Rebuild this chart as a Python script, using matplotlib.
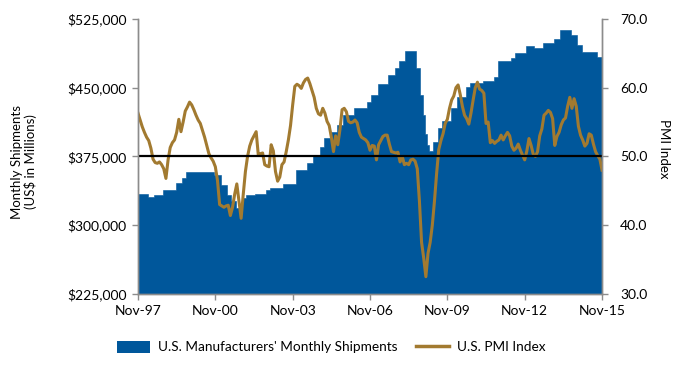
import numpy as np
import matplotlib
matplotlib.use('Agg')
import matplotlib.pyplot as plt
from matplotlib.patches import Patch
from matplotlib.lines import Line2D
from matplotlib.ticker import FuncFormatter

plt.rcParams['font.family'] = ['Lato', 'DejaVu Sans']

# x tick labels, one every 36 months from Nov-97
tick_labels = ['Nov-97', 'Nov-00', 'Nov-03', 'Nov-06', 'Nov-09', 'Nov-12', 'Nov-15']

# monthly shipments (US$ millions), Nov-97 .. Nov-15, read as (value, number of months)
ship_runs = [
    (334000, 5), (331000, 3), (333000, 4), (338000, 6), (346000, 3), (351000, 2),
    (358000, 13), (355000, 3), (344000, 3), (333000, 2), (326000, 2), (319000, 3),
    (330000, 2), (333000, 4), (334500, 5), (338000, 2), (340000, 6), (345000, 6),
    (360000, 5), (367600, 3), (376600, 3), (385700, 2), (394800, 3), (402000, 3),
    (409000, 3), (420000, 5), (427600, 6), (434000, 2), (442000, 3), (453600, 5),
    (464000, 3), (471000, 2), (479000, 3), (490000, 5), (471000, 2), (442000, 1),
    (420000, 1), (400000, 1), (388000, 1), (381000, 2), (391000, 2), (406000, 2),
    (414000, 4), (428000, 3), (440000, 4), (451000, 2), (455000, 6), (457000, 5),
    (462000, 2), (479000, 6), (482000, 2), (488000, 5), (495000, 4), (493000, 4),
    (498500, 5), (503000, 3), (513000, 5), (507600, 3), (497000, 2), (489000, 7),
    (484000, 3),
]
shipments = [v for v, n in ship_runs for _ in range(n)]

# ISM PMI, monthly
pmi = [
    56.3, 55.3, 54.3, 53.5, 52.8, 52.3, 51.2, 49.6, 49.1, 49.0, 49.2, 48.8,
    48.2, 46.8, 49.5, 51.3, 52.0, 52.4, 53.5, 55.4, 53.6, 55.0, 56.6, 57.2,
    57.9, 57.5, 56.8, 56.0, 55.3, 54.8, 53.8, 52.8, 51.6, 50.4, 49.8, 49.3,
    48.5, 46.5, 43.0, 42.8, 42.6, 42.8, 42.9, 41.4, 42.6, 44.5, 46.0, 43.5,
    41.0, 44.5, 47.8, 50.0, 51.5, 52.4, 53.0, 53.6, 50.2, 50.4, 50.5, 48.8,
    48.6, 48.5, 51.7, 50.8, 47.8, 46.4, 47.0, 48.8, 49.2, 50.7, 52.4, 54.5,
    57.5, 60.2, 60.5, 60.3, 59.9, 60.7, 61.2, 61.4, 60.6, 59.6, 58.6, 57.0,
    56.2, 56.0, 57.0, 56.3, 55.1, 54.5, 52.8, 50.7, 53.0, 51.7, 53.9, 56.8,
    57.0, 56.5, 55.1, 54.9, 55.0, 55.3, 54.9, 53.5, 52.8, 52.6, 52.4, 52.0,
    50.9, 51.6, 51.5, 49.5, 51.7, 52.3, 52.9, 53.1, 53.1, 51.8, 50.7, 50.6,
    50.5, 50.6, 49.2, 50.0, 48.8, 49.0, 48.8, 49.5, 49.6, 49.3, 48.2, 43.5,
    37.5, 35.2, 32.5, 35.9, 37.5, 40.0, 43.5, 47.5, 51.0, 52.3, 53.3, 54.8,
    55.4, 57.0, 58.2, 58.8, 60.0, 60.4, 59.0, 57.3, 56.0, 55.5, 54.7, 56.3,
    58.2, 60.0, 60.8, 59.8, 59.6, 59.2, 54.8, 55.0, 52.0, 52.3, 51.9, 52.2,
    52.4, 53.1, 52.4, 53.0, 53.5, 53.0, 51.5, 50.9, 51.2, 51.8, 50.9, 50.2,
    49.5, 50.8, 52.6, 51.6, 50.3, 50.0, 50.7, 53.0, 54.0, 56.0, 56.3, 56.7,
    56.4, 55.5, 51.6, 52.9, 53.5, 54.6, 55.3, 55.6, 57.3, 58.6, 57.0, 58.4,
    57.3, 54.4, 53.1, 52.4, 51.5, 51.9, 53.3, 53.1, 51.8, 50.7, 50.1, 49.6,
    48.0,
]

months = np.arange(len(pmi))
blue = '#00579b'
gold = '#a27a30'
grey = '#8c8c8c'

fig = plt.figure(figsize=(6.9, 3.72), dpi=100)
ax = fig.add_axes([0.2, 0.21, 0.6725, 0.739])

# monthly bars drawn as one stepped area so there are no seams between them
ax.fill_between(months, shipments, 0, step='mid', facecolor=blue,
                edgecolor=blue, linewidth=0.4)
ax.set_ylim(225000, 525000)
ax.set_yticks([225000, 300000, 375000, 450000, 525000])
ax.yaxis.set_major_formatter(FuncFormatter(lambda v, p: '${:,.0f}'.format(v)))
ax.set_xlim(0, 216)
ax.set_xticks(np.arange(0, 217, 36))
ax.set_xticklabels(tick_labels)

ax2 = ax.twinx()
ax2.plot(months, pmi, color=gold, lw=2.2, solid_joinstyle='round')
ax2.axhline(50, color='black', lw=1.6)
ax2.set_ylim(30, 70)
ax2.set_yticks([30, 40, 50, 60, 70])
ax2.yaxis.set_major_formatter(FuncFormatter(lambda v, p: '{:.1f}'.format(v)))

for a in (ax, ax2):
    a.spines['top'].set_visible(False)
    for s in ('left', 'right', 'bottom'):
        a.spines[s].set_color(grey)
        a.spines[s].set_linewidth(1.0)
    a.tick_params(axis='both', colors=grey, labelcolor='black', labelsize=10, length=4, width=1)
ax.tick_params(axis='x', pad=4)
ax.tick_params(axis='y', pad=4)
ax2.tick_params(axis='y', pad=9)

fig.text(0.035, 0.565, 'Monthly Shipments\n(US$ in Millions)', rotation=90,
         ha='center', va='center', fontsize=9.5, linespacing=1.15)
fig.text(0.962, 0.6, 'PMI Index', rotation=270, ha='center', va='center', fontsize=9.5)

handles = [Patch(facecolor=blue, edgecolor='none'),
           Line2D([], [], color=gold, lw=2.5)]
fig.legend(handles, ["U.S. Manufacturers' Monthly Shipments", 'U.S. PMI Index'],
           loc='center', bbox_to_anchor=(0.48, 0.067), ncol=2, frameon=False,
           fontsize=9.8, handlelength=2.4, handleheight=0.95, columnspacing=1.4,
           handletextpad=0.6)

fig.savefig('out.png', dpi=100)
